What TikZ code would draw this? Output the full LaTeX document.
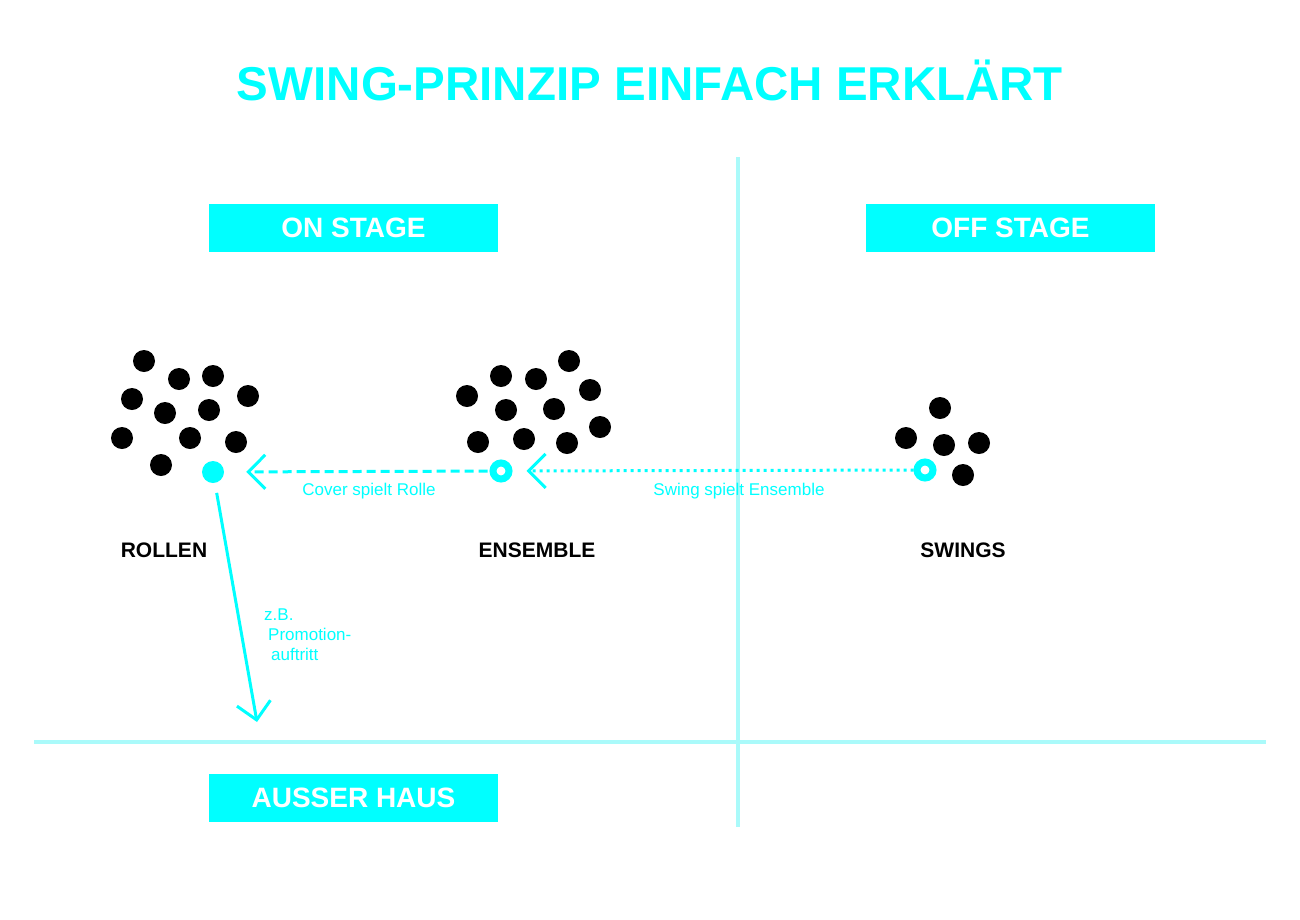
\documentclass[tikz,border=0pt]{standalone}
\usepackage{fontspec}
\setmainfont{Liberation Sans}
\usepackage{graphicx}
\usetikzlibrary{arrows.meta}
\definecolor{cy}{RGB}{0,255,255}
\definecolor{lightcy}{RGB}{170,250,250}
\tikzset{
  dot/.style={circle,fill=black,minimum size=22pt,inner sep=0pt},
  cdot/.style={circle,fill=cy,minimum size=22pt,inner sep=0pt},
  ring/.style={circle,draw=cy,line width=7pt,minimum size=16pt,inner sep=0pt},
  stagebox/.style={fill=cy,minimum width=289pt,minimum height=48pt,inner sep=0pt,text=white,font=\fontsize{28}{32}\selectfont\bfseries},
  grouplabel/.style={font=\fontsize{21}{24}\selectfont\bfseries,text=black},
  small/.style={text=cy,font=\fontsize{17}{20}\selectfont,inner sep=0pt},
  axis/.style={draw=lightcy,line width=4pt},
  conn/.style={draw=cy,line width=3pt,-{Straight Barb[length=17pt,width=34pt,line width=3pt]}},
}
\begin{document}
\begin{tikzpicture}[x=1pt,y=-1pt]
\useasboundingbox (0,0) rectangle (1300,919);
% title
\node[anchor=base,inner sep=0pt,text=cy,font=\bfseries] (title) at (650,100)
  {\resizebox{826pt}{!}{\fontsize{47}{50}\selectfont SWING-PRINZIP EINFACH ERKLÄRT}};
% axes
\coordinate (vtop) at (738,157);
\coordinate (vbot) at (738,827);
\coordinate (hl) at (34,742);
\coordinate (hr) at (1266,742);
\draw[axis] (vtop) -- (vbot);
\draw[axis] (hl) -- (hr);
% boxes
\node[stagebox] (on) at (353.5,228) {ON STAGE};
\node[stagebox] (off) at (1010.5,228) {OFF STAGE};
\node[stagebox] (aus) at (353.5,798) {AUSSER HAUS};
% Rollen dots
\node[dot] (r1) at (144,361) {};
\node[dot] (r2) at (179,379) {};
\node[dot] (r3) at (213,376) {};
\node[dot] (r4) at (132,399) {};
\node[dot] (r5) at (165,413) {};
\node[dot] (r6) at (209,410) {};
\node[dot] (r7) at (248,396) {};
\node[dot] (r8) at (122,438) {};
\node[dot] (r9) at (190,438) {};
\node[dot] (r10) at (236,442) {};
\node[dot] (r11) at (161,465) {};
\node[cdot] (rc) at (213,472) {};
% Ensemble dots
\node[dot] (e1) at (569,361) {};
\node[dot] (e2) at (501,376) {};
\node[dot] (e3) at (536,379) {};
\node[dot] (e4) at (467,396) {};
\node[dot] (e5) at (590,390) {};
\node[dot] (e6) at (506,410) {};
\node[dot] (e7) at (554,409) {};
\node[dot] (e8) at (600,427) {};
\node[dot] (e9) at (478,442) {};
\node[dot] (e10) at (524,439) {};
\node[dot] (e11) at (567,443) {};
\node[ring] (ec) at (501,471) {};
% Swings dots
\node[dot] (s1) at (940,408) {};
\node[dot] (s2) at (906,438) {};
\node[dot] (s3) at (944,445) {};
\node[dot] (s4) at (979,443) {};
\node[dot] (s5) at (963,475) {};
\node[ring] (sc) at (925,470) {};
% group labels
\node[grouplabel] (lr) at (164,550) {ROLLEN};
\node[grouplabel] (le) at (537,550) {ENSEMBLE};
\node[grouplabel] (ls) at (963,550) {SWINGS};
% connectors
\draw[conn,dash pattern=on 9pt off 5pt,shorten <=2pt,shorten >=22pt] (ec) -- (rc);
\draw[conn,dash pattern=on 3pt off 4pt,shorten <=0pt,shorten >=14pt] (sc) -- (ec);
\coordinate (ausend) at (257,722);
\draw[conn,shorten <=10pt] (rc) -- (ausend);
% small labels
\node[small] (lcover) at (369,491) {Cover spielt Rolle};
\node[small] (lswing) at (739,491) {Swing spielt Ensemble};
\node[small,anchor=north west,align=left] (lpromo) at (264,609)
  {z.B.\\\hspace*{4pt}Promotion-\\\hspace*{7pt}auftritt};
\end{tikzpicture}
\end{document}
